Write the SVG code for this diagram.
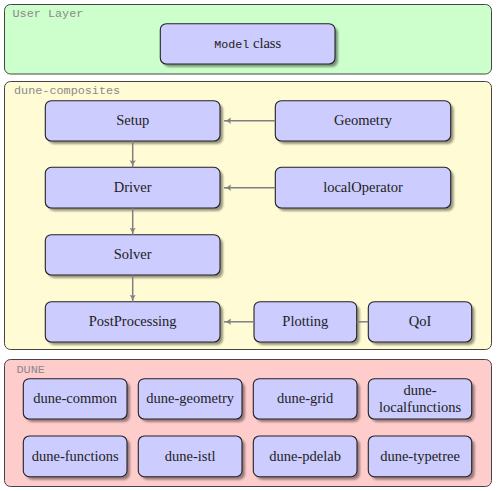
<svg xmlns="http://www.w3.org/2000/svg" width="499" height="491" viewBox="0 0 499 491">
<defs>
<marker id="ah" markerWidth="8" markerHeight="8" refX="7" refY="4" orient="auto" markerUnits="userSpaceOnUse">
<path d="M0,0.8 Q3,3.4 7,4 Q3,4.6 0,7.2 Q1.6,4 0,0.8 Z" fill="#808080"/>
</marker>
<filter id="sh" x="-10%" y="-10%" width="130%" height="140%">
<feGaussianBlur stdDeviation="0.8"/>
</filter>
</defs>
<style>
.layer{stroke:#444;stroke-width:1}
.lbl{font-family:'Liberation Mono','DejaVu Sans Mono',monospace;font-size:11.8px;fill:#8a8a8a}
.node rect.b{fill:#ccccff;stroke:#222;stroke-width:1.1}
.node rect.s{fill:#000;opacity:0.4;filter:url(#sh)}
.t{font-family:'Liberation Serif','Times New Roman','DejaVu Serif',serif;font-size:14.5px;fill:#222;text-anchor:middle}
.tt{font-family:'Liberation Mono','DejaVu Sans Mono',monospace;font-size:11.7px}
.c{stroke:#808080;stroke-width:1.5;fill:none}
</style>

<g id="user-layer">
<rect class="layer" x="4.5" y="4.5" width="487" height="69.5" rx="6" fill="#ccffcc"/>
<text class="lbl" x="12.5" y="17">User Layer</text>
</g>
<g id="dune-composites">
<rect class="layer" x="4.5" y="81.5" width="487" height="268" rx="6" fill="#fffbd5"/>
<text class="lbl" x="14" y="93.5">dune-composites</text>
</g>
<g id="dune">
<rect class="layer" x="4.5" y="359.5" width="487" height="127" rx="6" fill="#ffcccc"/>
<text class="lbl" x="16.5" y="373">DUNE</text>
</g>

<g id="model" class="node">
<rect class="s" x="163.3" y="26.7" width="174.7" height="40.3" rx="6"/>
<rect class="b" x="160.3" y="23.7" width="174.7" height="40.3" rx="6"/>
<text class="t" font-family="Liberation Serif, serif" x="247.7" y="48"><tspan class="tt" font-family="Liberation Mono, monospace">Model</tspan> class</text>
</g>

<g id="setup" class="node">
<rect class="s" x="48.3" y="103.7" width="174.7" height="40.3" rx="6"/>
<rect class="b" x="45.3" y="100.7" width="174.7" height="40.3" rx="6"/>
<text class="t" font-family="Liberation Serif, serif" x="132.7" y="124.8">Setup</text>
</g>
<g id="geometry" class="node">
<rect class="s" x="278.3" y="103.7" width="175.4" height="40.3" rx="6"/>
<rect class="b" x="275.3" y="100.7" width="175.4" height="40.3" rx="6"/>
<text class="t" font-family="Liberation Serif, serif" x="363" y="124.8">Geometry</text>
</g>
<g id="driver" class="node">
<rect class="s" x="48.3" y="170.3" width="174.7" height="40.7" rx="6"/>
<rect class="b" x="45.3" y="167.3" width="174.7" height="40.7" rx="6"/>
<text class="t" font-family="Liberation Serif, serif" x="132.7" y="191.8">Driver</text>
</g>
<g id="localOperator" class="node">
<rect class="s" x="278.3" y="170.3" width="175.4" height="40.7" rx="6"/>
<rect class="b" x="275.3" y="167.3" width="175.4" height="40.7" rx="6"/>
<text class="t" font-family="Liberation Serif, serif" x="363" y="191.8">localOperator</text>
</g>
<g id="solver" class="node">
<rect class="s" x="48.3" y="237.7" width="174.7" height="40.3" rx="6"/>
<rect class="b" x="45.3" y="234.7" width="174.7" height="40.3" rx="6"/>
<text class="t" font-family="Liberation Serif, serif" x="132.7" y="258.8">Solver</text>
</g>
<g id="postprocessing" class="node">
<rect class="s" x="48.3" y="304.7" width="174.7" height="40.3" rx="6"/>
<rect class="b" x="45.3" y="301.7" width="174.7" height="40.3" rx="6"/>
<text class="t" font-family="Liberation Serif, serif" x="132.7" y="325.8">PostProcessing</text>
</g>
<g id="plotting" class="node">
<rect class="s" x="257" y="304.7" width="102.7" height="40.3" rx="6"/>
<rect class="b" x="254" y="301.7" width="102.7" height="40.3" rx="6"/>
<text class="t" font-family="Liberation Serif, serif" x="305.3" y="325.8">Plotting</text>
</g>
<g id="qoi" class="node">
<rect class="s" x="371.3" y="304.7" width="103.4" height="40.3" rx="6"/>
<rect class="b" x="368.3" y="301.7" width="103.4" height="40.3" rx="6"/>
<text class="t" font-family="Liberation Serif, serif" x="420" y="325.8">QoI</text>
</g>

<g id="dune-common" class="node">
<rect class="s" x="26.3" y="381.7" width="103.7" height="40.3" rx="6"/>
<rect class="b" x="23.3" y="378.7" width="103.7" height="40.3" rx="6"/>
<text class="t" font-family="Liberation Serif, serif" x="75.2" y="403">dune-common</text>
</g>
<g id="dune-geometry" class="node">
<rect class="s" x="141.3" y="381.7" width="103.7" height="40.3" rx="6"/>
<rect class="b" x="138.3" y="378.7" width="103.7" height="40.3" rx="6"/>
<text class="t" font-family="Liberation Serif, serif" x="190.2" y="403">dune-geometry</text>
</g>
<g id="dune-grid" class="node">
<rect class="s" x="256.3" y="381.7" width="103.7" height="40.3" rx="6"/>
<rect class="b" x="253.3" y="378.7" width="103.7" height="40.3" rx="6"/>
<text class="t" font-family="Liberation Serif, serif" x="305.2" y="403">dune-grid</text>
</g>
<g id="dune-localfunctions" class="node">
<rect class="s" x="371.3" y="381.7" width="103.4" height="40.3" rx="6"/>
<rect class="b" x="368.3" y="378.7" width="103.4" height="40.3" rx="6"/>
<text class="t" font-family="Liberation Serif, serif" x="420" y="395.2">dune-</text>
<text class="t" font-family="Liberation Serif, serif" x="420" y="411.6">localfunctions</text>
</g>
<g id="dune-functions" class="node">
<rect class="s" x="26.3" y="439" width="103.7" height="40.7" rx="6"/>
<rect class="b" x="23.3" y="436" width="103.7" height="40.7" rx="6"/>
<text class="t" font-family="Liberation Serif, serif" x="75.2" y="460.5">dune-functions</text>
</g>
<g id="dune-istl" class="node">
<rect class="s" x="141.3" y="439" width="103.7" height="40.7" rx="6"/>
<rect class="b" x="138.3" y="436" width="103.7" height="40.7" rx="6"/>
<text class="t" font-family="Liberation Serif, serif" x="190.2" y="460.5">dune-istl</text>
</g>
<g id="dune-pdelab" class="node">
<rect class="s" x="256.3" y="439" width="103.7" height="40.7" rx="6"/>
<rect class="b" x="253.3" y="436" width="103.7" height="40.7" rx="6"/>
<text class="t" font-family="Liberation Serif, serif" x="305.2" y="460.5">dune-pdelab</text>
</g>
<g id="dune-typetree" class="node">
<rect class="s" x="371.3" y="439" width="103.4" height="40.7" rx="6"/>
<rect class="b" x="368.3" y="436" width="103.4" height="40.7" rx="6"/>
<text class="t" font-family="Liberation Serif, serif" x="420" y="460.5">dune-typetree</text>
</g>

<g id="connectors">
<line class="c" x1="275.3" y1="120.8" x2="224" y2="120.8" marker-end="url(#ah)"/>
<line class="c" x1="275.3" y1="187.7" x2="224" y2="187.7" marker-end="url(#ah)"/>
<line class="c" x1="254" y1="321.8" x2="224" y2="321.8" marker-end="url(#ah)"/>
<line class="c" x1="356.7" y1="321.8" x2="368.3" y2="321.8"/>
<line class="c" x1="132.7" y1="141" x2="132.7" y2="167.3" marker-end="url(#ah)"/>
<line class="c" x1="132.7" y1="208" x2="132.7" y2="234.7" marker-end="url(#ah)"/>
<line class="c" x1="132.7" y1="275" x2="132.7" y2="301.7" marker-end="url(#ah)"/>
</g>
</svg>
